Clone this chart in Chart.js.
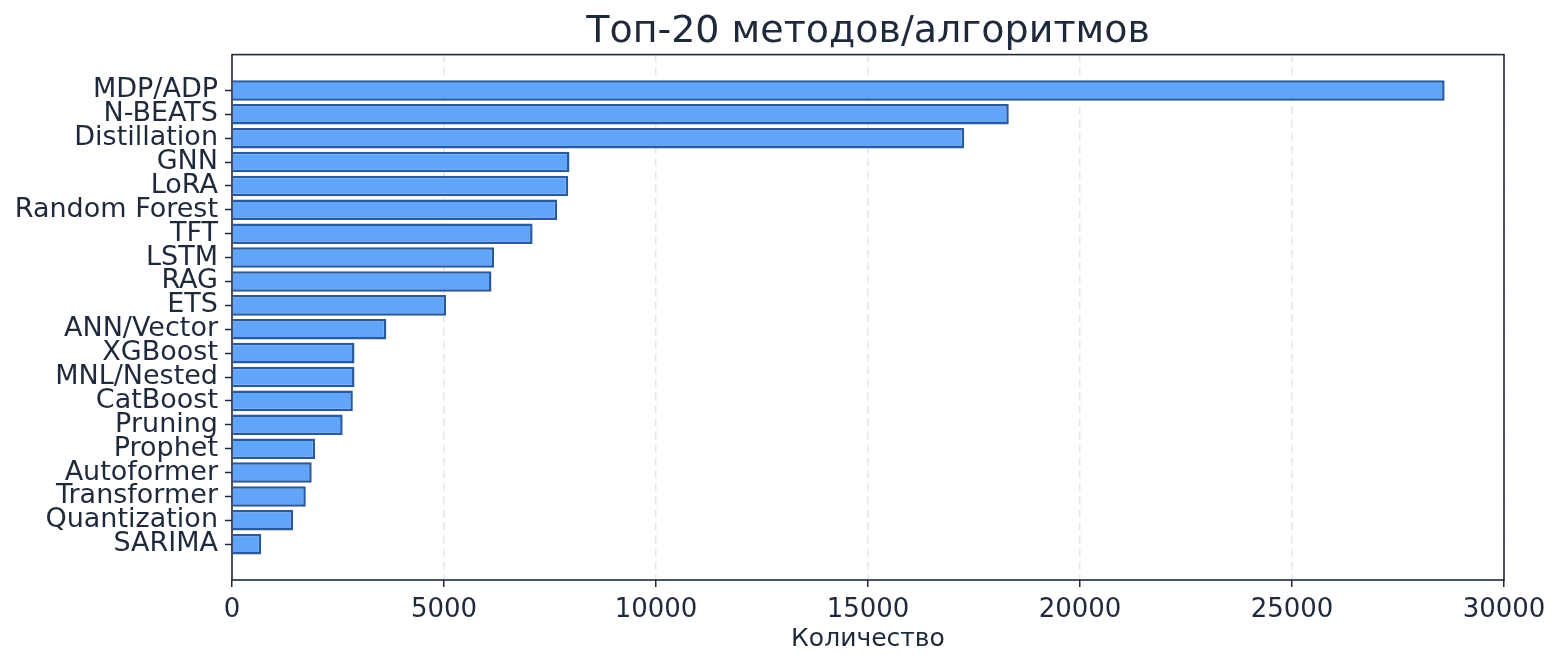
<!DOCTYPE html>
<html>
<head>
<meta charset="utf-8">
<script src="https://cdn.jsdelivr.net/npm/chart.js@4"></script>
<style>
  body { margin: 0; background: #fff; }
</style>
</head>
<body>
<canvas id="topChart" width="1560" height="667"></canvas>
<script>
const methods = [
  "MDP/ADP", "N-BEATS", "Distillation", "GNN", "LoRA", "Random Forest", "TFT",
  "LSTM", "RAG", "ETS", "ANN/Vector", "XGBoost", "MNL/Nested", "CatBoost",
  "Pruning", "Prophet", "Autoformer", "Transformer", "Quantization", "SARIMA"
];
const counts = [
  28600, 18320, 17270, 7960, 7930, 7670, 7090,
  6180, 6120, 5050, 3640, 2890, 2890, 2850,
  2610, 1960, 1880, 1740, 1440, 690
];
const xTicks = [0, 5000, 10000, 15000, 20000, 25000, 30000];

const textColor = "#1e293b";
const font = "'DejaVu Sans', sans-serif";

// top and right spines (matplotlib-style frame)
const framePlugin = {
  id: "frame",
  afterDraw(chart) {
    const { ctx, chartArea: a } = chart;
    ctx.save();
    ctx.strokeStyle = textColor;
    ctx.lineWidth = 1.6;
    ctx.strokeRect(a.left, a.top, a.right - a.left, a.bottom - a.top);
    ctx.restore();
  },
};

const ctx = document.getElementById("topChart").getContext("2d");
new Chart(ctx, {
  type: "bar",
  data: {
    datasets: [
      {
        label: "Количество",
        data: counts.map((v, i) => ({ x: v, y: i })),
        backgroundColor: "#60a5fa",
        borderColor: "#2a5a9e",
        borderWidth: 2.5,
        barPercentage: 0.86,
        categoryPercentage: 1,
      },
    ],
  },
  options: {
    indexAxis: "y",
    responsive: false,
    animation: false,
    layout: { padding: { left: 0, right: 56, top: 0, bottom: 0 } },
    scales: {
      y: {
        type: "linear",
        reverse: true,
        offset: false,
        min: -1.5,
        max: 20.5,
        afterFit: (scale) => { scale.width = 232; },
        afterBuildTicks: (scale) => {
          scale.ticks = methods.map((_, i) => ({ value: i }));
        },
        ticks: {
          callback: (v) => methods[v],
          color: textColor,
          font: { family: font, size: 27 },
          padding: 7,
          autoSkip: false,
        },
        grid: {
          offset: false,
          drawOnChartArea: false,
          tickLength: 7,
          tickColor: textColor,
          tickWidth: 1.5,
        },
        border: { display: false },
      },
      x: {
        min: 0,
        max: 30000,
        afterFit: (scale) => { scale.height = 87; },
        afterBuildTicks: (scale) => {
          scale.ticks = xTicks.map((v) => ({ value: v }));
        },
        ticks: {
          callback: (v) => String(v),
          color: textColor,
          font: { family: font, size: 26 },
          padding: 8,
          maxRotation: 0,
        },
        grid: {
          color: "rgba(203, 213, 225, 0.6)",
          lineWidth: 1.5,
          tickLength: 7,
          tickColor: textColor,
          tickWidth: 1.5,
          tickBorderDash: [],
        },
        border: { display: false, dash: [8, 5] },
        title: {
          display: true,
          text: "Количество",
          color: textColor,
          font: { family: font, size: 25 },
          padding: { top: 0, bottom: 13 },
        },
      },
    },
    plugins: {
      legend: { display: false },
      tooltip: { enabled: false },
      title: {
        display: true,
        fullSize: false,
        text: "Топ-20 методов/алгоритмов",
        color: textColor,
        font: { family: font, size: 38, weight: "normal" },
        padding: { top: 9, bottom: 0 },
      },
    },
  },
  plugins: [framePlugin],
});
</script>
</body>
</html>
